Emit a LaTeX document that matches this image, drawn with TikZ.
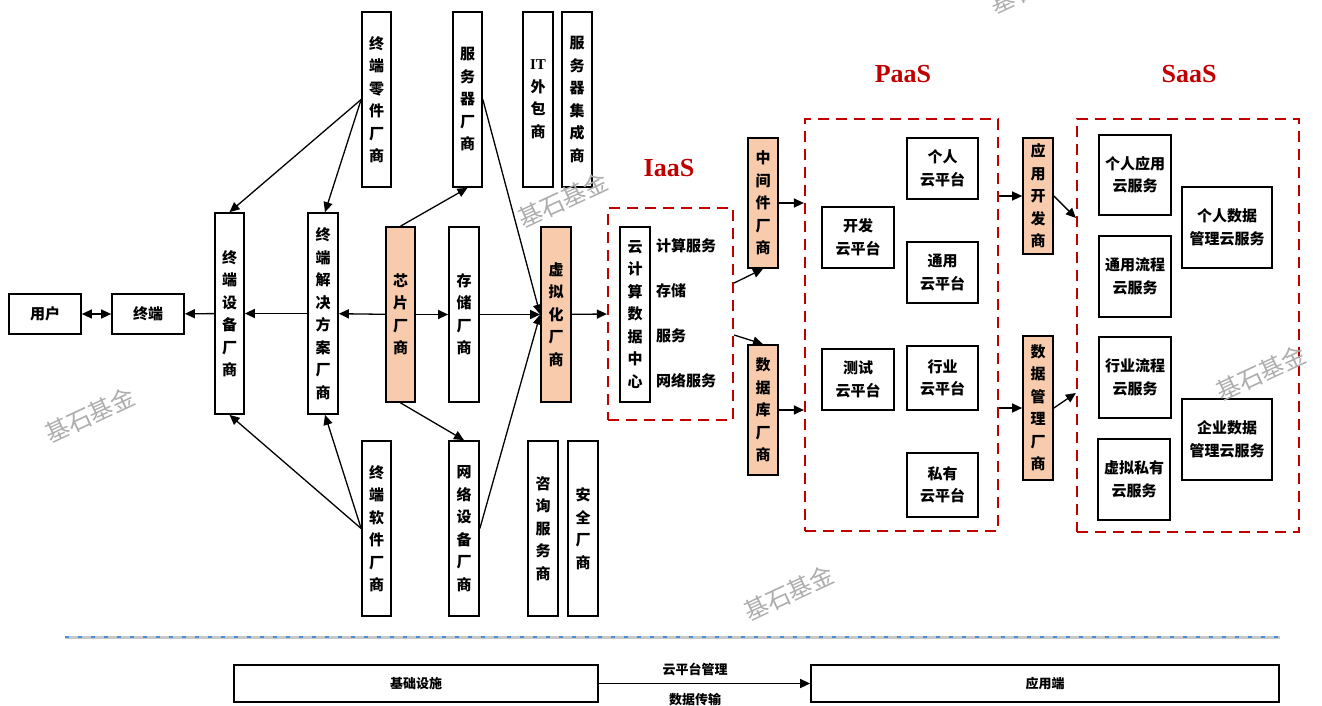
\documentclass[tikz,border=0pt]{standalone}
\usepackage{fontspec}
\setmainfont{Liberation Serif}
\newfontfamily\cjk{Noto Sans CJK SC}
\usetikzlibrary{arrows.meta}
\definecolor{orng}{HTML}{F8CBAD}
\definecolor{dred}{HTML}{C00000}
\definecolor{wmgray}{HTML}{ADADAD}
\definecolor{divgray}{HTML}{C8C8C8}
\definecolor{divblue}{HTML}{4A90D9}
\tikzset{
  box/.style={draw, line width=1.7pt, inner sep=0pt, align=center,
    font=\cjk\bfseries\fontsize{15}{22.5}\selectfont},
  obox/.style={box, fill=orng},
  redbox/.style={draw=dred, line width=2.2pt, dash pattern=on 11pt off 7pt, inner sep=0pt},
  arr/.style={-{Triangle[length=10pt,width=9pt]}, line width=1.3pt},
  darr/.style={{Triangle[length=10pt,width=9pt]}-{Triangle[length=10pt,width=9pt]}, line width=1.3pt},
  ttl/.style={text=dred, font=\bfseries\fontsize{26}{28}\selectfont},
  itxt/.style={anchor=west, inner sep=0pt, font=\cjk\bfseries\fontsize{15}{22}\selectfont},
  wm/.style={text=wmgray, rotate=25, font=\cjk\fontsize{24}{26}\selectfont},
  blab/.style={font=\cjk\bfseries\fontsize{13}{15}\selectfont, inner sep=0pt}
}
\begin{document}
\begin{tikzpicture}[x=1pt,y=-1pt]
\useasboundingbox (0,0) rectangle (1322,705);
% left part
\node[box, minimum width=72, minimum height=40] (user) at (45,314) {用户};
\node[box, minimum width=72, minimum height=40] (term) at (148,314) {终端};
\node[box, minimum width=29, minimum height=201] (sb) at (229.5,313.5) {终\\端\\设\\备\\厂\\商};
\node[box, minimum width=30, minimum height=201] (jj) at (323,313.5) {终\\端\\解\\决\\方\\案\\厂\\商};
\node[box, minimum width=29, minimum height=175] (lj) at (376.5,99.5) {终\\端\\零\\件\\厂\\商};
\node[box, minimum width=29, minimum height=175] (rj) at (376.5,528.5) {终\\端\\软\\件\\厂\\商};
\node[box, minimum width=29, minimum height=175] (fwq) at (467.5,99.5) {服\\务\\器\\厂\\商};
\node[obox, minimum width=29, minimum height=175] (xp) at (400.5,314.5) {芯\\片\\厂\\商};
\node[box, minimum width=30, minimum height=175] (cc) at (464,314.5) {存\\储\\厂\\商};
\node[box, minimum width=30, minimum height=175] (wl) at (464,528.5) {网\\络\\设\\备\\厂\\商};
\node[box, minimum width=30, minimum height=175] (it) at (538,99.5) {{\rmfamily IT}\\外\\包\\商};
\node[box, minimum width=30, minimum height=175] (jc) at (577,99.5) {服\\务\\器\\集\\成\\商};
\node[obox, minimum width=30, minimum height=175] (xn) at (556,314.5) {虚\\拟\\化\\厂\\商};
\node[box, minimum width=30, minimum height=175] (zx) at (543,528.5) {咨\\询\\服\\务\\商};
\node[box, minimum width=30, minimum height=175] (aq) at (583,528.5) {安\\全\\厂\\商};
% IaaS
\node[ttl] (tiaas) at (669,168) {IaaS};
\node[redbox, minimum width=125, minimum height=212] (iaas) at (670.5,314) {};
\node[box, minimum width=30, minimum height=175] (dc) at (635,314.5) {云\\计\\算\\数\\据\\中\\心};
\node[itxt] (i1) at (656,246) {计算服务};
\node[itxt] (i2) at (656,291) {存储};
\node[itxt] (i3) at (656,336) {服务};
\node[itxt] (i4) at (656,381) {网络服务};
\node[obox, minimum width=30, minimum height=130] (zj) at (763,203) {中\\间\\件\\厂\\商};
\node[obox, minimum width=30, minimum height=130] (sjk) at (763,410) {数\\据\\库\\厂\\商};
% PaaS
\node[ttl] (tpaas) at (903,74) {PaaS};
\node[redbox, minimum width=193, minimum height=412] (paas) at (901.5,325) {};
\node[box, minimum width=71, minimum height=61] (p1) at (942.5,168.5) {个人\\云平台};
\node[box, minimum width=72, minimum height=61] (kf) at (858,237.5) {开发\\云平台};
\node[box, minimum width=71, minimum height=61] (ty) at (942.5,272.5) {通用\\云平台};
\node[box, minimum width=72, minimum height=61] (cs) at (858,379.5) {测试\\云平台};
\node[box, minimum width=71, minimum height=64] (hy) at (942.5,378) {行业\\云平台};
\node[box, minimum width=71, minimum height=64] (sy) at (942.5,485) {私有\\云平台};
\node[obox, minimum width=30, minimum height=116] (yykf) at (1038,196) {应\\用\\开\\发\\商};
\node[obox, minimum width=30, minimum height=144] (sjgl) at (1038,408) {数\\据\\管\\理\\厂\\商};
% SaaS
\node[ttl] (tsaas) at (1189,74) {SaaS};
\node[redbox, minimum width=222, minimum height=413] (saas) at (1188,325.5) {};
\node[box, minimum width=72, minimum height=80] (s1) at (1135,175) {个人应用\\云服务};
\node[box, minimum width=72, minimum height=81] (s2) at (1135,276.5) {通用流程\\云服务};
\node[box, minimum width=72, minimum height=81] (s3) at (1135,377.5) {行业流程\\云服务};
\node[box, minimum width=72, minimum height=81] (s4) at (1134,479.5) {虚拟私有\\云服务};
\node[box, minimum width=90, minimum height=81] (s5) at (1227,227.5) {个人数据\\管理云服务};
\node[box, minimum width=90, minimum height=81] (s6) at (1227,439.5) {企业数据\\管理云服务};
% connectors
\draw[darr] (user) -- (term);
\draw[arr] (sb) -- (term);
\draw[arr] (jj) -- (sb);
\draw[arr] (xp) -- (jj);
\draw[arr] (xp) -- (cc);
\draw[arr] (cc) -- (xn);
\draw[arr] (xp.north) -- (fwq.south);
\draw[arr] (xp.south) -- (wl.north);
\draw[arr] (fwq.east) -- (xn.west);
\draw[arr] (wl.east) -- (xn.west);
\draw[arr] (xn) -- (iaas.west);
\draw[arr] (lj.west) -- (sb.north);
\draw[arr] (lj.west) -- ([xshift=2pt]jj.north);
\draw[arr] (rj.west) -- (sb.south);
\draw[arr] (rj.west) -- ([xshift=2pt]jj.south);
\draw[arr] ([yshift=31pt]iaas.east) -- (zj.south);
\draw[arr] ([yshift=-21pt]iaas.east) -- (sjk.north);
\draw[arr] (zj.east) -- (paas.west |- zj.east);
\draw[arr] (sjk.east) -- (paas.west |- sjk.east);
\draw[arr] (paas.east |- yykf.west) -- (yykf.west);
\draw[arr] (paas.east |- sjgl.west) -- (sjgl.west);
\draw[arr] (yykf.east) -- ([yshift=107.5pt]saas.west);
\draw[arr] (sjgl.east) -- ([yshift=-67.5pt]saas.west);
% divider
\coordinate (d1) at (65,637);
\coordinate (d2) at (1280,637);
\draw[divgray, line width=3pt] (d1) -- (d2);
\draw[divblue, line width=1.4pt, dash pattern=on 4pt off 9pt] (d1) -- (d2);
% bottom
\node[box, minimum width=364, minimum height=37, font=\cjk\bfseries\fontsize{13}{15}\selectfont] (base) at (416,683.5) {基础设施};
\node[box, minimum width=468, minimum height=37, font=\cjk\bfseries\fontsize{13}{15}\selectfont] (app) at (1045,683.5) {应用端};
\draw[arr] (base.east) -- (app.west);
\node[blab] (l1) at (695,669) {云平台管理};
\node[blab] (l2) at (695,700) {数据传输};
% watermarks
\node[wm] (w1) at (90,415) {基石基金};
\node[wm] (w2) at (563,200) {基石基金};
\node[wm] (w3) at (789,593) {基石基金};
\node[wm] (w4) at (1261,373) {基石基金};
\node[wm] (w5) at (1035,-14) {基石基金};
\end{tikzpicture}
\end{document}
